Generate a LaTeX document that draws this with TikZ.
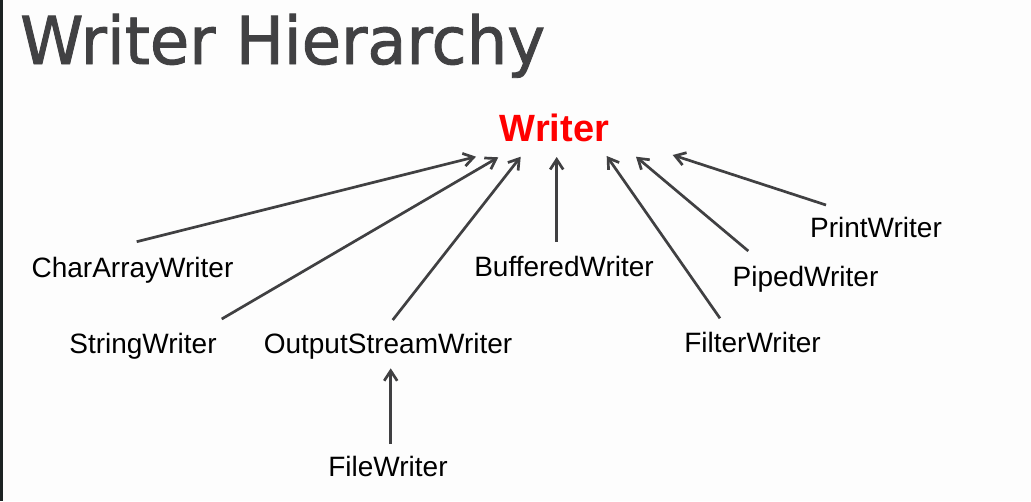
\documentclass[tikz,border=0pt]{standalone}
\usepackage{fontspec}
\setmainfont{Liberation Sans}
\newfontfamily\titlefont[FakeBold=1.4]{DejaVu Sans}
\usetikzlibrary{arrows.meta}
\definecolor{bgc}{HTML}{FDFDFD}
\definecolor{edgec}{HTML}{1C2222}
\definecolor{titlec}{HTML}{414143}
\definecolor{arrc}{HTML}{404042}
\begin{document}
\begin{tikzpicture}[x=1pt,y=-1pt,
  lbl/.style={anchor=base, inner sep=0pt, font=\fontsize{28}{30}\selectfont, text=black},
  inh/.style={draw=arrc, line width=2.7pt, -{Straight Barb[length=10pt,width=13pt,line width=2.7pt]}}]
\useasboundingbox (0,0) rectangle (1031,501);
\fill[bgc] (0,0) rectangle (1031,501);
\fill[edgec] (0,0) rectangle (2.5,501);
\node[anchor=base west, inner sep=0pt, text=titlec, font=\titlefont\fontsize{64}{66}\selectfont, yscale=1.03] (title) at (20,64) {Writer Hierarchy};
\node[anchor=base, inner sep=0pt, text=red, font=\bfseries\fontsize{38}{40}\selectfont] (writer) at (554.5,141) {Writer};
\node[lbl] (caw) at (132.5,277) {CharArrayWriter};
\node[lbl] (sw) at (143,353) {StringWriter};
\node[lbl] (osw) at (388,353) {OutputStreamWriter};
\node[lbl] (bw) at (564,276.5) {BufferedWriter};
\node[lbl] (flw) at (752.5,352) {FilterWriter};
\node[lbl] (pdw) at (805.5,286.5) {PipedWriter};
\node[lbl] (ptw) at (876,237) {PrintWriter};
\node[lbl] (fw) at (388,476.5) {FileWriter};
% connector end points
\coordinate (t1) at (136.7,241.7); \coordinate (h1) at (476,156.7);
\coordinate (t2) at (221.7,319);   \coordinate (h2) at (498.3,157.3);
\coordinate (t3) at (392.7,320);   \coordinate (h3) at (520.7,156.7);
\coordinate (t4) at (556.7,241.7); \coordinate (h4) at (556.7,157);
\coordinate (t5) at (720,318.3);   \coordinate (h5) at (606.7,156);
\coordinate (t6) at (748.3,251);   \coordinate (h6) at (636,156.7);
\coordinate (t7) at (826,205);     \coordinate (h7) at (672.7,155);
\coordinate (t8) at (390.7,444);   \coordinate (h8) at (390.7,368.3);
\draw[inh] (t1) -- (h1);
\draw[inh] (t2) -- (h2);
\draw[inh] (t3) -- (h3);
\draw[inh] (t4) -- (h4);
\draw[inh] (t5) -- (h5);
\draw[inh] (t6) -- (h6);
\draw[inh] (t7) -- (h7);
\draw[inh] (t8) -- (h8);
\end{tikzpicture}
\end{document}
